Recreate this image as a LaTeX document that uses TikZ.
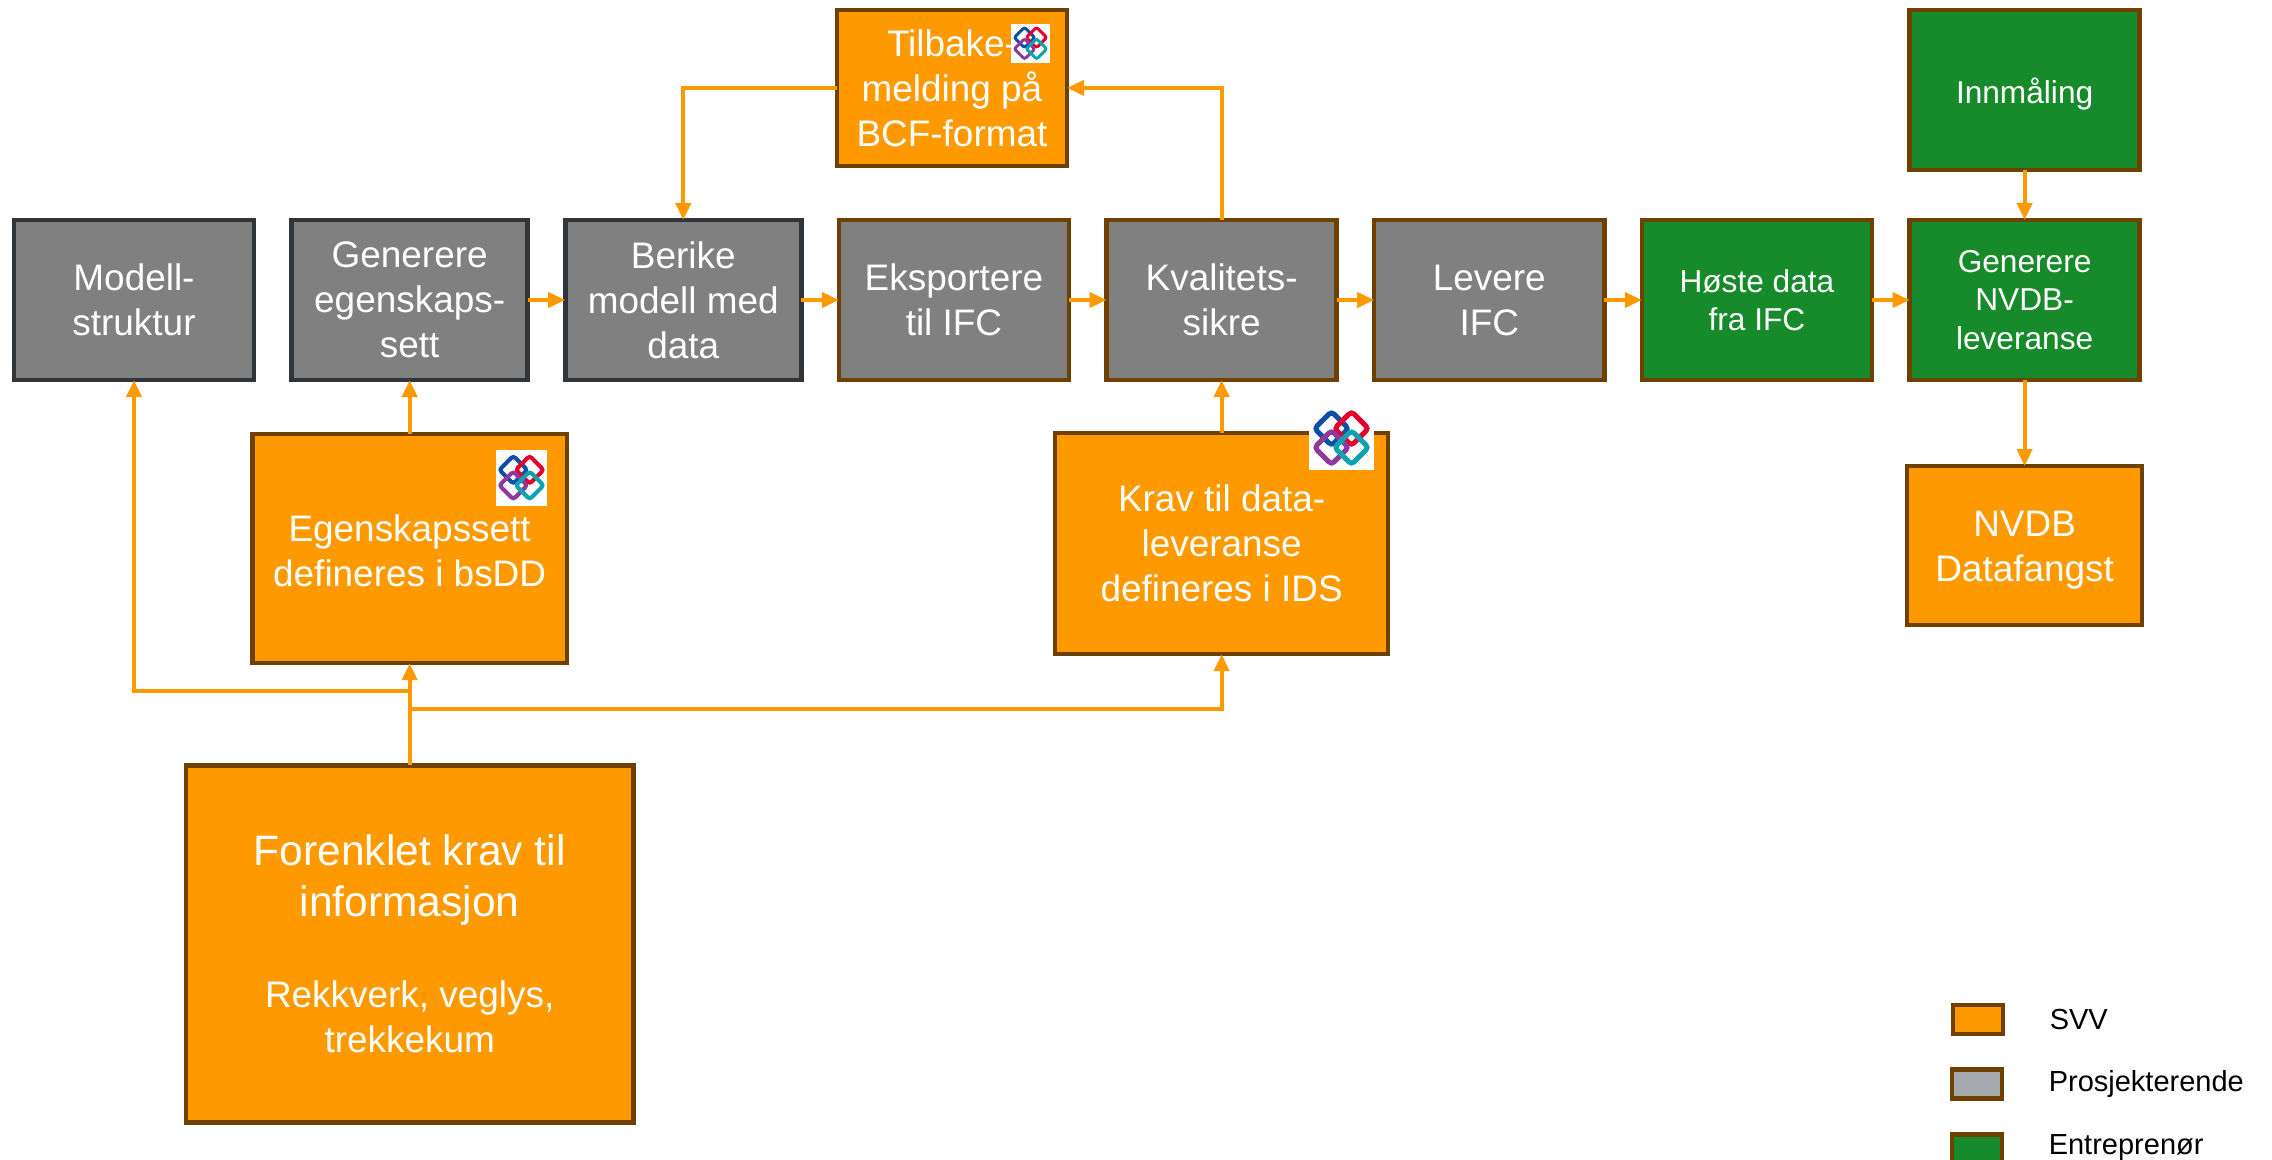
\documentclass[tikz,border=0pt]{standalone}
\usepackage{fontspec}
\setmainfont{Liberation Sans}
\usetikzlibrary{arrows.meta,positioning}
\definecolor{svvorange}{HTML}{FF9900}
\definecolor{boxbrown}{HTML}{6E4100}
\definecolor{boxdark}{HTML}{2F3538}
\definecolor{prosgrey}{HTML}{808080}
\definecolor{legendgrey}{HTML}{A5A8AD}
\definecolor{entrgreen}{HTML}{178A2B}
\definecolor{logoblue}{HTML}{0D4EA6}
\definecolor{logored}{HTML}{E4002B}
\definecolor{logopurple}{HTML}{8E3A9D}
\definecolor{logoteal}{HTML}{0FA3B1}
\newcommand{\bigtext}{\fontsize{12.1}{14.6}\selectfont}
\tikzset{
    %Define standard arrow tip
    >={Triangle[length=.17cm,width=.15cm]},
    %Define style for boxes
    svvbox/.style={
           rectangle,
           draw=boxbrown,
           line width=.045cm,
           outer sep=0pt,
           fill=svvorange,
           text=white,
           align=center,
           font=\fontsize{10.5}{12.8}\selectfont},
    prosbox/.style={
           svvbox,
           fill=prosgrey,
           minimum width=2.30cm,
           minimum height=1.60cm},
    prosdark/.style={
           prosbox,
           draw=boxdark,
           minimum width=2.36cm},
    entrbox/.style={
           prosbox,
           fill=entrgreen,
           font=\fontsize{9}{10.9}\selectfont},
    legendbox/.style={
           svvbox,
           minimum width=.50cm,
           minimum height=.29cm},
    legendtext/.style={
           text=black,
           font=\fontsize{8.25}{10}\selectfont,
           inner sep=0pt},
    % Define arrow style
    pil/.style={
           ->,
           draw=svvorange,
           line width=.04cm},
    logoring/.style={
           line width=#1*.05cm,
           rounded corners=#1*.035cm}
}
% bSDD logo: centre, scale, width and height of the white patch
\newcommand{\bsddlogo}[4]{
\begin{scope}[shift={(#1)},scale=#2]
\fill[white] (-#3/2,-#4/2) rectangle (#3/2,#4/2);
\foreach \col/\dx/\dy in {logoblue/-10/-10,logored/10/-10,logopurple/-10/9,logoteal/10/9}
  \draw[logoring=#2,draw=\col] (\dx-17,\dy) -- (\dx,\dy-17) -- (\dx+17,\dy) -- (\dx,\dy+17) -- cycle;
\end{scope}
}

\begin{document}
\begin{tikzpicture}[x=.01cm,y=-.01cm,node distance=.375cm]
\useasboundingbox (0,0) rectangle (2272,1159);
 %nodes
\node[prosdark, minimum width=2.40cm](modell) at (134,300){Modell-\\struktur};
\node[prosdark, right=of modell](generere){Generere\\egenskaps-\\sett};
\node[prosdark, right=of generere](berike){Berike\\modell med\\data};
\node[prosbox, right=of berike](eksport){Eksportere\\til IFC};
\node[prosbox, right=of eksport](kvalitet){Kvalitets-\\sikre};
\node[prosbox, right=of kvalitet](levere){Levere\\IFC};
\node[entrbox, right=of levere](hoste){Høste data\\fra IFC};
\node[entrbox, right=of hoste](nvdb){Generere\\NVDB-\\leveranse};
\node[svvbox, above=.54cm of eksport, xshift=-.02cm, minimum width=2.30cm, minimum height=1.56cm](tilbake){Tilbake-\\melding på\\BCF-format};
\node[entrbox, above=.50cm of nvdb](innmaling){\rule{0pt}{.33cm}Innmåling};
\node[svvbox, below=.86cm of nvdb, minimum width=2.35cm, minimum height=1.59cm](datafangst){\rule{0pt}{.35cm}NVDB\\Datafangst};
\node[svvbox, below=.54cm of generere, minimum width=3.14cm, minimum height=2.29cm](egenskap){\rule{0pt}{.31cm}Egenskapssett\\defineres i bsDD};
\node[svvbox, below=.53cm of kvalitet, minimum width=3.33cm, minimum height=2.21cm](krav){Krav til data-\\leveranse\\defineres i IDS};
\node[svvbox, below=1.02cm of egenskap, minimum width=4.47cm, minimum height=3.57cm](forenklet){\bigtext Forenklet krav til\\[.058cm]\bigtext informasjon\\[.46cm]Rekkverk, veglys,\\trekkekum};
 %legend
\node[legendbox](legsvv) at (1978,1019.5){};
\node[legendbox, prosbox, minimum width=.50cm, minimum height=.29cm, fill=legendgrey](legpros) at (1977,1084){};
\node[legendbox, prosbox, minimum width=.50cm, minimum height=.29cm, fill=entrgreen](legentr) at (1977,1149){};
\node[legendtext, right=.46cm of legsvv](legsvvtext){SVV};
\node[legendtext, right=.46cm of legpros](legprostext){Prosjekterende};
\node[legendtext, right=.46cm of legentr, yshift=.015cm](legentrtext){Entreprenør};
 %logos
\bsddlogo{1030.5,43.5}{.6}{65}{65}
\bsddlogo{521.5,478}{.82}{63}{68}
\bsddlogo{1341.5,438.5}{1}{65}{63}
 %split points above the big box
\coordinate (splitm) at (forenklet.north |- 0,691);
\coordinate (splitk) at (forenklet.north |- 0,709);
 %connectors
\draw[pil] (generere) -- (berike);
\draw[pil] (berike) -- (eksport);
\draw[pil] (eksport) -- (kvalitet);
\draw[pil] (kvalitet) -- (levere);
\draw[pil] (levere) -- (hoste);
\draw[pil] (hoste) -- (nvdb);
\draw[pil] (innmaling) -- (nvdb);
\draw[pil] (nvdb) -- (datafangst);
\draw[pil] (egenskap) -- (generere);
\draw[pil] (krav) -- (kvalitet);
\draw[pil] (kvalitet.north) |- (tilbake.east);
\draw[pil] (tilbake.west) -| (berike.north);
\draw[pil] (forenklet) -- (egenskap);
\draw[pil] (forenklet.north) -- (splitm) -| (modell.south);
\draw[pil] (splitk) -| (krav.south);
\end{tikzpicture}
\end{document}
